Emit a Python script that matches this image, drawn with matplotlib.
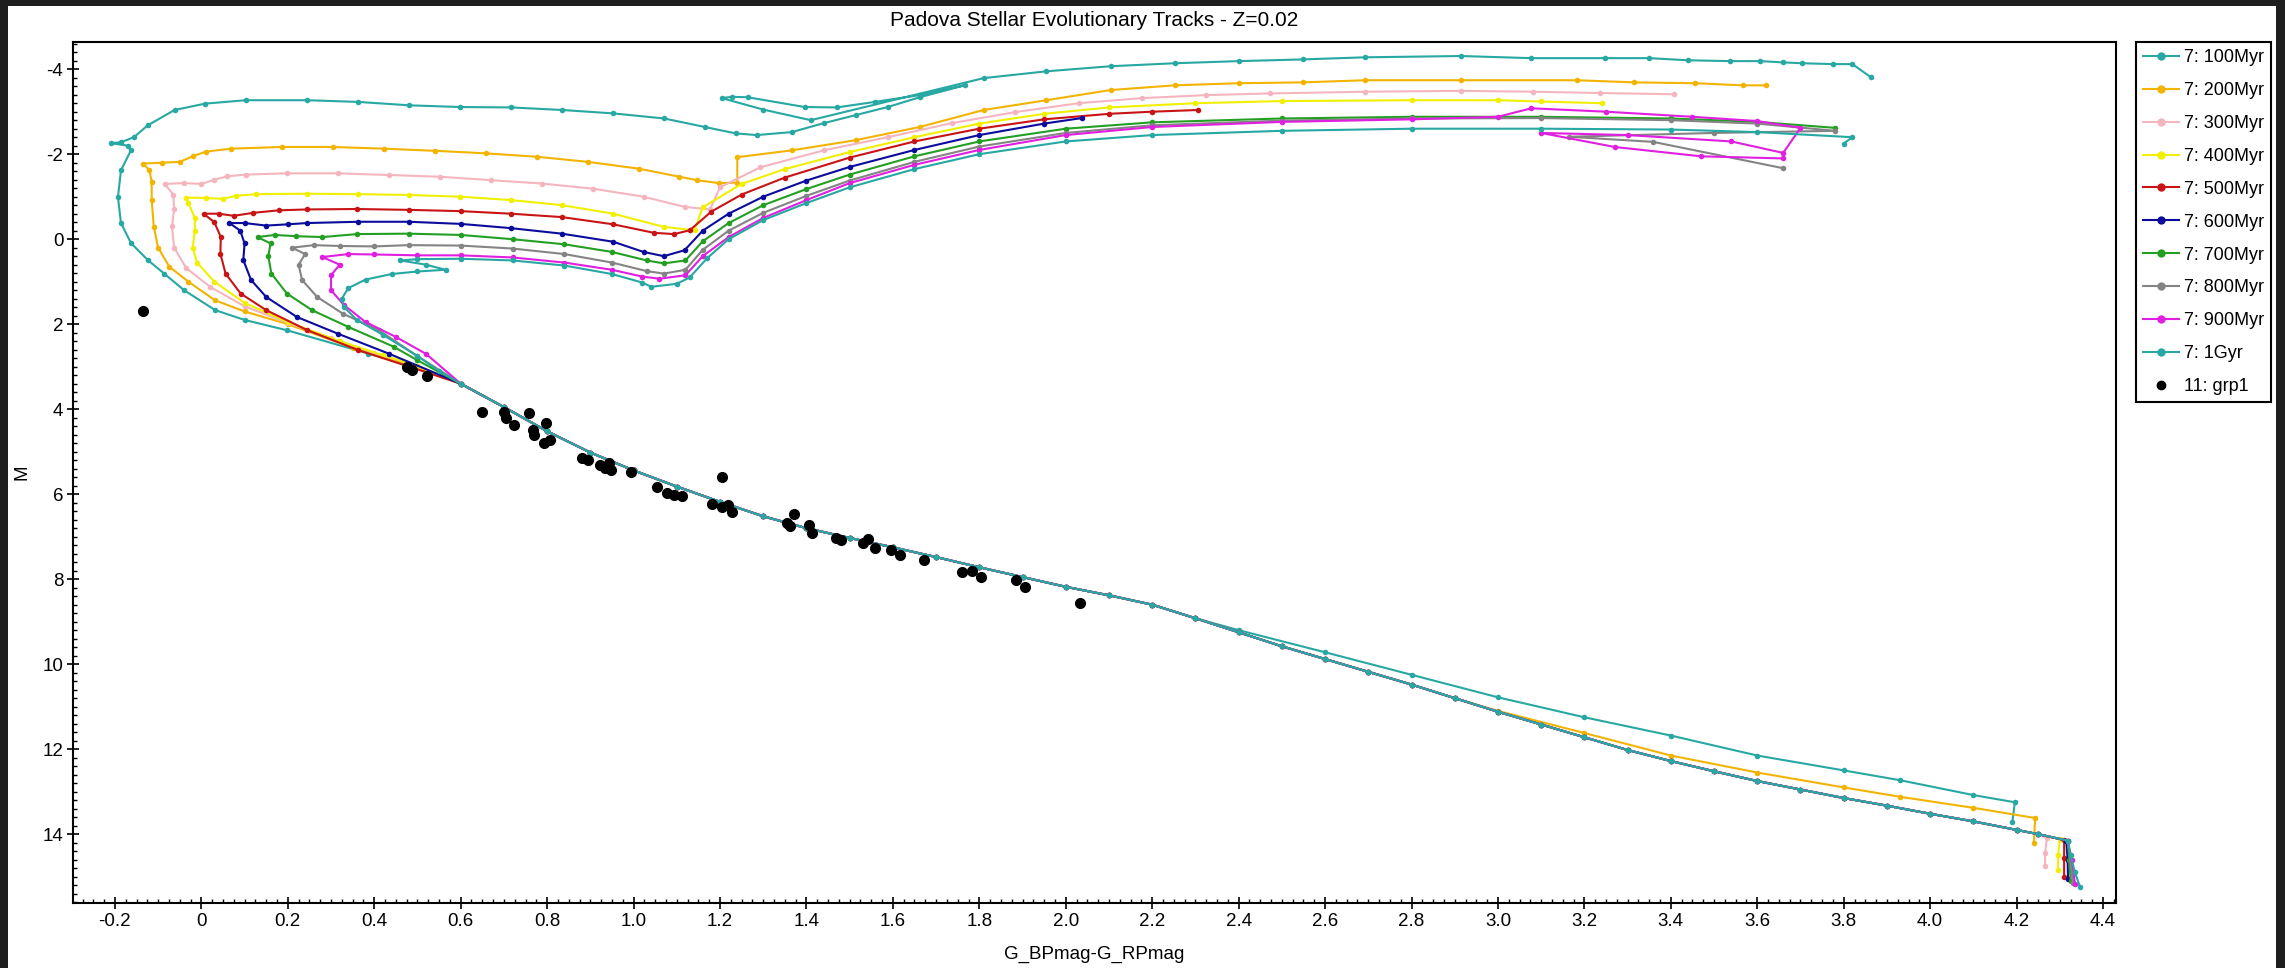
import numpy as np
import matplotlib.pyplot as plt
from matplotlib.patches import Rectangle
from matplotlib.ticker import MultipleLocator, FuncFormatter

plt.rcParams['font.family'] = ['Liberation Sans', 'DejaVu Sans']

# shared lower main sequence (G_BP-G_RP, M), red end -> blue
ms_color = [4.25, 4.2, 4.1, 4.0, 3.9, 3.8, 3.7, 3.6, 3.5, 3.4, 3.3, 3.2, 3.1, 3.0, 2.9, 2.8, 2.7, 2.6, 2.5, 2.4,
            2.3, 2.2, 2.1, 2.0, 1.9, 1.8, 1.7, 1.6, 1.5, 1.4, 1.3, 1.2, 1.1, 1.0, 0.9, 0.8, 0.7, 0.6]
ms_mag = [14.0, 13.9, 13.7, 13.52, 13.33, 13.15, 12.95, 12.75, 12.52, 12.28, 12.02, 11.72, 11.42, 11.12, 10.8,
          10.48, 10.18, 9.88, 9.58, 9.25, 8.92, 8.6, 8.38, 8.18, 7.95, 7.72, 7.48, 7.25, 7.03, 6.8, 6.52, 6.18,
          5.82, 5.44, 5.02, 4.52, 3.95, 3.4]

# 100 Myr
t100_low = [(4.19, 13.72), (4.196, 13.25), (4.1, 13.08), (3.93, 12.73), (3.8, 12.5), (3.6, 12.15), (3.4, 11.68),
            (3.2, 11.25), (3.0, 10.78), (2.8, 10.25), (2.6, 9.72), (2.4, 9.2)]
t100_up = [(0.5, 3.0), (0.386, 2.69), (0.197, 2.14), (0.1, 1.9), (0.032, 1.67), (-0.04, 1.2), (-0.086, 0.81),
           (-0.124, 0.49), (-0.163, 0.09), (-0.186, -0.38), (-0.193, -0.99), (-0.186, -1.62), (-0.163, -2.09),
           (-0.17, -2.2), (-0.209, -2.26), (-0.186, -2.28), (-0.156, -2.4), (-0.124, -2.68), (-0.062, -3.04),
           (0.009, -3.19), (0.103, -3.27), (0.245, -3.27), (0.363, -3.23), (0.481, -3.15), (0.599, -3.11),
           (0.717, -3.1), (0.835, -3.04), (0.953, -2.96), (1.071, -2.84), (1.165, -2.64), (1.236, -2.49),
           (1.285, -2.45), (1.366, -2.52), (1.44, -2.73), (1.514, -2.92), (1.588, -3.11), (1.662, -3.34),
           (1.766, -3.62), (1.662, -3.39), (1.558, -3.23), (1.47, -3.1), (1.396, -3.11), (1.264, -3.34),
           (1.227, -3.35), (1.204, -3.32), (1.3, -3.05), (1.41, -2.8), (1.81, -3.79), (1.955, -3.95),
           (2.104, -4.07), (2.252, -4.14), (2.4, -4.19), (2.548, -4.23), (2.693, -4.28), (2.915, -4.31),
           (3.077, -4.26), (3.248, -4.26), (3.35, -4.26), (3.44, -4.21), (3.537, -4.19), (3.607, -4.19),
           (3.66, -4.16), (3.704, -4.14), (3.776, -4.12), (3.82, -4.12), (3.863, -3.81)]

# 200 Myr
t200_low = [(4.24, 14.2), (4.243, 13.62), (4.1, 13.38), (3.93, 13.12), (3.8, 12.9), (3.6, 12.55), (3.4, 12.15),
            (3.2, 11.62), (3.0, 11.1)]
t200_up = [(0.48, 2.95), (0.35, 2.55), (0.2, 2.0), (0.1, 1.7), (0.032, 1.44), (-0.03, 1.0), (-0.074, 0.65),
           (-0.1, 0.2), (-0.11, -0.29), (-0.115, -0.92), (-0.115, -1.35), (-0.12, -1.62), (-0.135, -1.78),
           (-0.09, -1.8), (-0.05, -1.82), (-0.02, -1.95), (0.01, -2.06), (0.068, -2.13), (0.186, -2.17),
           (0.304, -2.17), (0.422, -2.13), (0.54, -2.08), (0.658, -2.02), (0.776, -1.94), (0.894, -1.82),
           (1.012, -1.66), (1.106, -1.47), (1.146, -1.39), (1.197, -1.32), (1.24, -1.33), (1.24, -1.93),
           (1.366, -2.09), (1.514, -2.33), (1.662, -2.64), (1.81, -3.04), (1.955, -3.27), (2.104, -3.51),
           (2.252, -3.62), (2.4, -3.67), (2.548, -3.69), (2.693, -3.74), (2.915, -3.74), (3.183, -3.74),
           (3.315, -3.69), (3.456, -3.67), (3.567, -3.62), (3.62, -3.62)]

# 300 Myr
t300_low = [(4.266, 14.75), (4.266, 14.45), (4.27, 14.1)]
t300_up = [(0.5, 2.98), (0.4, 2.68), (0.3, 2.33), (0.2, 1.97), (0.1, 1.58), (0.02, 1.12), (-0.035, 0.68),
           (-0.063, 0.2), (-0.068, -0.3), (-0.063, -0.7), (-0.065, -1.05), (-0.085, -1.3), (-0.04, -1.32),
           (0.0, -1.3), (0.03, -1.4), (0.06, -1.48), (0.103, -1.52), (0.197, -1.55), (0.315, -1.55),
           (0.433, -1.51), (0.551, -1.47), (0.669, -1.39), (0.787, -1.31), (0.905, -1.19), (1.023, -1.0),
           (1.118, -0.76), (1.177, -0.7), (1.2, -1.22), (1.293, -1.69), (1.44, -2.09), (1.588, -2.4),
           (1.736, -2.73), (1.883, -2.99), (2.03, -3.2), (2.177, -3.32), (2.325, -3.39), (2.473, -3.43),
           (2.693, -3.47), (2.915, -3.49), (3.08, -3.47), (3.237, -3.44), (3.408, -3.41)]

# 400 Myr
t400_low = [(4.296, 14.85), (4.296, 14.5), (4.3, 14.12)]
t400_up = [(0.5, 2.98), (0.42, 2.73), (0.32, 2.4), (0.2, 1.95), (0.1, 1.5), (0.03, 1.0), (-0.01, 0.55),
           (-0.02, 0.2), (-0.015, -0.2), (-0.015, -0.5), (-0.03, -0.85), (-0.035, -0.98), (0.01, -0.97),
           (0.05, -0.95), (0.08, -1.02), (0.127, -1.06), (0.245, -1.07), (0.363, -1.06), (0.48, -1.04),
           (0.599, -1.0), (0.717, -0.92), (0.835, -0.8), (0.953, -0.6), (1.07, -0.29), (1.141, -0.21),
           (1.16, -0.75), (1.25, -1.3), (1.35, -1.65), (1.5, -2.05), (1.65, -2.4), (1.8, -2.72), (1.95, -2.95),
           (2.1, -3.1), (2.3, -3.2), (2.5, -3.25), (2.8, -3.27), (3.0, -3.27), (3.1, -3.24), (3.24, -3.2)]

# 500 Myr
t500_low = [(4.31, 15.0), (4.31, 14.55), (4.31, 14.14)]
t500_up = [(0.481, 3.0), (0.363, 2.61), (0.245, 2.14), (0.15, 1.67), (0.091, 1.28), (0.056, 0.81), (0.044, 0.34),
           (0.045, -0.05), (0.03, -0.4), (0.005, -0.6), (0.04, -0.6), (0.075, -0.55), (0.12, -0.62),
           (0.18, -0.68), (0.245, -0.7), (0.36, -0.71), (0.48, -0.69), (0.6, -0.66), (0.716, -0.6),
           (0.834, -0.52), (0.953, -0.35), (1.047, -0.15), (1.094, -0.12), (1.13, -0.21), (1.18, -0.65),
           (1.25, -1.05), (1.35, -1.45), (1.5, -1.92), (1.65, -2.3), (1.8, -2.6), (1.95, -2.82), (2.1, -2.95),
           (2.2, -3.0), (2.306, -3.04)]

# 600 Myr
t600_low = [(4.319, 15.06), (4.318, 14.6), (4.315, 14.15)]
t600_up = [(0.433, 2.69), (0.315, 2.22), (0.221, 1.83), (0.15, 1.36), (0.115, 0.96), (0.097, 0.49), (0.1, 0.1),
           (0.09, -0.2), (0.065, -0.38), (0.1, -0.38), (0.15, -0.32), (0.2, -0.35), (0.245, -0.38),
           (0.363, -0.41), (0.48, -0.41), (0.6, -0.36), (0.716, -0.26), (0.834, -0.13), (0.953, 0.06),
           (1.023, 0.3), (1.07, 0.4), (1.118, 0.26), (1.16, -0.2), (1.22, -0.6), (1.3, -1.0), (1.4, -1.38),
           (1.5, -1.7), (1.65, -2.1), (1.8, -2.45), (1.95, -2.72), (2.037, -2.85)]

# 700 Myr
t700_low = [(4.325, 15.1), (4.322, 14.6), (4.318, 14.15)]
t700_up = [(0.5, 2.85), (0.445, 2.53), (0.339, 2.06), (0.256, 1.67), (0.198, 1.28), (0.162, 0.81), (0.155, 0.4),
           (0.16, 0.1), (0.13, -0.05), (0.17, -0.1), (0.22, -0.07), (0.28, -0.05), (0.36, -0.12), (0.48, -0.13),
           (0.6, -0.1), (0.72, 0.0), (0.84, 0.12), (0.95, 0.3), (1.03, 0.5), (1.07, 0.57), (1.12, 0.5),
           (1.16, 0.05), (1.22, -0.38), (1.3, -0.8), (1.4, -1.18), (1.5, -1.52), (1.65, -1.95), (1.8, -2.3),
           (2.0, -2.6), (2.2, -2.75), (2.5, -2.84), (2.8, -2.88), (3.1, -2.88), (3.4, -2.84), (3.6, -2.76),
           (3.78, -2.62)]

# 800 Myr
t800_low = [(4.33, 15.15), (4.325, 14.6), (4.318, 14.15)]
t800_up = [(0.5, 2.75), (0.41, 2.14), (0.327, 1.75), (0.268, 1.36), (0.233, 0.96), (0.225, 0.6), (0.24, 0.35),
           (0.21, 0.2), (0.26, 0.14), (0.32, 0.16), (0.4, 0.17), (0.48, 0.14), (0.6, 0.15), (0.72, 0.22),
           (0.84, 0.35), (0.95, 0.55), (1.03, 0.75), (1.07, 0.81), (1.12, 0.72), (1.16, 0.25), (1.22, -0.2),
           (1.3, -0.62), (1.4, -1.02), (1.5, -1.38), (1.65, -1.82), (1.8, -2.18), (2.0, -2.5), (2.2, -2.68),
           (2.5, -2.79), (2.8, -2.84), (3.1, -2.85), (3.4, -2.8), (3.6, -2.72), (3.78, -2.55), (3.5, -2.5),
           (3.165, -2.41), (3.359, -2.29), (3.66, -1.67)]

# 900 Myr
t900_low = [(4.335, 15.18), (4.328, 14.6), (4.318, 14.15)]
t900_up = [(0.52, 2.7), (0.45, 2.3), (0.38, 1.95), (0.33, 1.55), (0.3, 1.2), (0.3, 0.85), (0.32, 0.6),
           (0.28, 0.42), (0.34, 0.35), (0.4, 0.36), (0.5, 0.38), (0.6, 0.38), (0.72, 0.43), (0.84, 0.55),
           (0.95, 0.72), (1.02, 0.88), (1.06, 0.93), (1.12, 0.85), (1.16, 0.4), (1.22, -0.05), (1.3, -0.5),
           (1.4, -0.92), (1.5, -1.32), (1.65, -1.75), (1.8, -2.1), (2.0, -2.45), (2.2, -2.64), (2.5, -2.76),
           (2.8, -2.82), (3.0, -2.88), (3.077, -3.08), (3.25, -3.0), (3.45, -2.88), (3.6, -2.78), (3.7, -2.62),
           (3.66, -2.03), (3.54, -2.3), (3.3, -2.45), (3.1, -2.5), (3.27, -2.17), (3.47, -1.95), (3.66, -1.9)]

# 1 Gyr
t1g_low = [(4.347, 15.25), (4.335, 14.9), (4.325, 14.5), (4.318, 14.15)]
t1g_up = [(0.55, 3.1), (0.5, 2.75), (0.42, 2.25), (0.36, 1.9), (0.33, 1.6), (0.325, 1.4), (0.34, 1.15),
          (0.38, 0.95), (0.44, 0.82), (0.5, 0.76), (0.565, 0.72), (0.52, 0.6), (0.46, 0.5), (0.5, 0.47),
          (0.6, 0.46), (0.72, 0.5), (0.84, 0.62), (0.95, 0.82), (1.02, 1.02), (1.041, 1.12), (1.1, 1.05),
          (1.13, 0.9), (1.17, 0.45), (1.22, 0.0), (1.3, -0.45), (1.4, -0.85), (1.5, -1.22), (1.65, -1.65),
          (1.8, -2.0), (2.0, -2.3), (2.2, -2.45), (2.5, -2.55), (2.8, -2.6), (3.1, -2.6), (3.4, -2.58),
          (3.6, -2.52), (3.82, -2.4), (3.8, -2.25)]

# cluster members (grp1)
grp_color = [-0.135, 0.475, 0.487, 0.522, 0.649, 0.70, 0.704, 0.723, 0.758, 0.767, 0.769, 0.797, 0.792, 0.806,
             0.88, 0.894, 0.922, 0.933, 0.943, 0.947, 0.993, 1.054, 1.077, 1.093, 1.111, 1.204, 1.181, 1.204,
             1.218, 1.227, 1.354, 1.361, 1.371, 1.407, 1.412, 1.468, 1.479, 1.532, 1.542, 1.558, 1.595, 1.616,
             1.671, 1.761, 1.784, 1.805, 1.884, 1.905, 2.032]
grp_mag = [1.7, 3.0, 3.08, 3.22, 4.07, 4.07, 4.21, 4.38, 4.09, 4.49, 4.61, 4.33, 4.80, 4.73,
           5.15, 5.2, 5.32, 5.39, 5.27, 5.44, 5.48, 5.84, 5.98, 6.01, 6.05, 5.6, 6.24, 6.31,
           6.26, 6.42, 6.68, 6.75, 6.47, 6.73, 6.92, 7.04, 7.08, 7.15, 7.06, 7.27, 7.32, 7.44,
           7.55, 7.83, 7.81, 7.96, 8.02, 8.19, 8.56]

labels = ['7: 100Myr', '7: 200Myr', '7: 300Myr', '7: 400Myr', '7: 500Myr', '7: 600Myr', '7: 700Myr',
          '7: 800Myr', '7: 900Myr', '7: 1Gyr']
colors = ['#27a8a2', '#f2b400', '#f5b5bf', '#f0f000', '#c81414', '#0c0c9c', '#23a023', '#848484', '#e01fe0',
          '#27a8a2']
lows = [t100_low, t200_low, t300_low, t400_low, t500_low, t600_low, t700_low, t800_low, t900_low, t1g_low]
ups = [t100_up, t200_up, t300_up, t400_up, t500_up, t600_up, t700_up, t800_up, t900_up, t1g_up]
ms_cut = [2.3, 2.9, 4.25, 4.25, 4.25, 4.25, 4.25, 4.25, 4.25, 4.25]

W, H = 2285, 968
fig = plt.figure(figsize=(W / 100, H / 100), dpi=100, facecolor='#1e1e1e')
fig.patches.append(Rectangle((8 / W, 0), 2268 / W, 962 / H, transform=fig.transFigure,
                             facecolor='white', edgecolor='none', zorder=-10))
ax = fig.add_axes([73 / W, 65 / H, 2043 / W, 861 / H])

for lab, col, low, up, cut in zip(labels, colors, lows, ups, ms_cut):
    ms = [(c, m) for c, m in zip(ms_color, ms_mag) if c <= cut]
    pts = np.array(low + ms + up)
    ax.plot(pts[:, 0], pts[:, 1], '-o', color=col, lw=1.5, ms=4, mew=0, label=lab)

ax.plot(grp_color, grp_mag, 'o', color='black', ms=7, ls='none', label='11: grp1', zorder=5)

ax.set_xlim(-0.297, 4.43)
ax.set_ylim(15.62, -4.64)
ax.xaxis.set_major_locator(MultipleLocator(0.2))
ax.xaxis.set_minor_locator(MultipleLocator(0.025))
ax.yaxis.set_major_locator(MultipleLocator(2))
ax.yaxis.set_minor_locator(MultipleLocator(0.2))
ax.xaxis.set_major_formatter(FuncFormatter(lambda v, p: '0' if abs(v) < 1e-6 else '%.1f' % v))
ax.yaxis.set_major_formatter(FuncFormatter(lambda v, p: '%d' % round(v)))
ax.tick_params(which='major', direction='inout', length=8, width=1.2, labelsize=13.5, pad=3)
ax.tick_params(which='minor', direction='in', length=3, width=1)
for s in ax.spines.values():
    s.set_linewidth(1.5)

ax.set_xlabel('G_BPmag-G_RPmag', fontsize=13.5)
ax.xaxis.set_label_coords(0.5, -0.05)
ax.set_ylabel('M', fontsize=13.5)
ax.yaxis.set_label_coords(-0.021, 0.5)
fig.text(1094 / W, 1 - 20 / H, 'Padova Stellar Evolutionary Tracks - Z=0.02', ha='center', va='center',
         fontsize=15)

leg = ax.legend(loc='upper left', bbox_to_anchor=(2136 / W, 1 - 42 / H), bbox_transform=fig.transFigure,
                fontsize=13, frameon=True, fancybox=False, edgecolor='black', framealpha=1,
                borderpad=0.4, labelspacing=0.88, handlelength=2.0, handletextpad=0.25, borderaxespad=0)
leg.get_frame().set_linewidth(1.5)
for h in leg.legend_handles:
    h.set_markersize(6)

fig.savefig('out.png', dpi=100, facecolor=fig.get_facecolor())
